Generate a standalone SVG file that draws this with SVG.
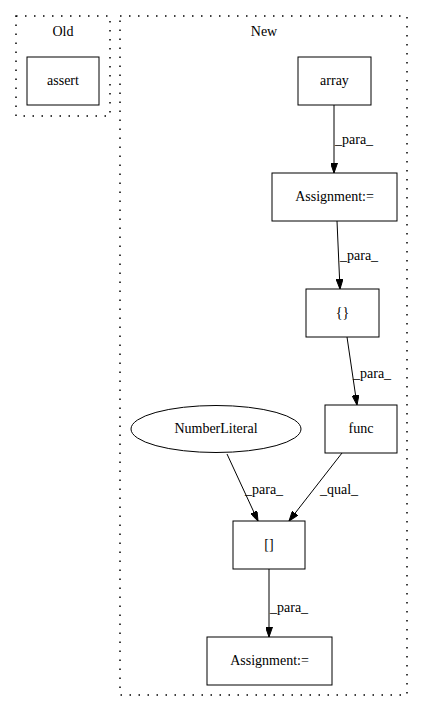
<svg xmlns="http://www.w3.org/2000/svg" width="424" height="712" viewBox="0 0 424 712">
<style>
text{font-family:"Liberation Serif","Times New Roman",serif;font-size:14px;fill:#000}
.n{fill:none;stroke:#000;stroke-width:1}
.c{fill:none;stroke:#000;stroke-width:1.5;stroke-dasharray:1.5,7.5}
.e{fill:none;stroke:#000;stroke-width:1;marker-end:url(#ah)}
.m{text-anchor:middle}
</style>
<defs>
<marker id="ah" viewBox="0 0 10 7" refX="10" refY="3.5" markerWidth="10" markerHeight="7" markerUnits="userSpaceOnUse" orient="auto">
<path d="M0,0L10,3.5L0,7z" fill="#000" stroke="#000"/>
</marker>
</defs>
<rect width="424" height="712" fill="#fff"/>
<g id="cluster_old">
<rect class="c" x="16" y="16" width="94" height="100"/>
<text class="m" x="63" y="36">Old</text>
</g>
<g id="cluster_new">
<rect class="c" x="120" y="16" width="287" height="679"/>
<text class="m" x="264" y="36">New</text>
</g>
<g id="connectors">
<path class="e" d="M334,105L334,173"/>
<text x="335" y="144">_para_</text>
<path class="e" d="M337,221L340,289"/>
<text x="340" y="260">_para_</text>
<path class="e" d="M347,337L357,405"/>
<text x="353" y="378">_para_</text>
<path class="e" d="M227,454L258,521"/>
<text x="245" y="494">_para_</text>
<path class="e" d="M342,453L289,521"/>
<text x="320" y="494">_qual_</text>
<path class="e" d="M269,569L269,637"/>
<text x="270" y="612">_para_</text>
</g>
<g id="assert">
<rect class="n" x="27" y="57" width="72" height="48"/>
<text class="m" x="63" y="85">assert</text>
</g>
<g id="array">
<rect class="n" x="298" y="57" width="73" height="48"/>
<text class="m" x="334.5" y="85">array</text>
</g>
<g id="assignment1">
<rect class="n" x="272" y="173" width="125" height="48"/>
<text class="m" x="334.5" y="201">Assignment:=</text>
</g>
<g id="braces">
<rect class="n" x="306" y="289" width="73" height="48"/>
<text class="m" x="342.5" y="317">{}</text>
</g>
<g id="func">
<rect class="n" x="325" y="405" width="72" height="48"/>
<text class="m" x="361" y="433">func</text>
</g>
<g id="numberliteral">
<ellipse class="n" cx="216" cy="429" rx="85" ry="23.5"/>
<text class="m" x="216" y="433">NumberLiteral</text>
</g>
<g id="subscript">
<rect class="n" x="233" y="521" width="72" height="48"/>
<text class="m" x="269" y="549">[]</text>
</g>
<g id="assignment2">
<rect class="n" x="207" y="637" width="125" height="48"/>
<text class="m" x="269.5" y="665">Assignment:=</text>
</g>
</svg>
